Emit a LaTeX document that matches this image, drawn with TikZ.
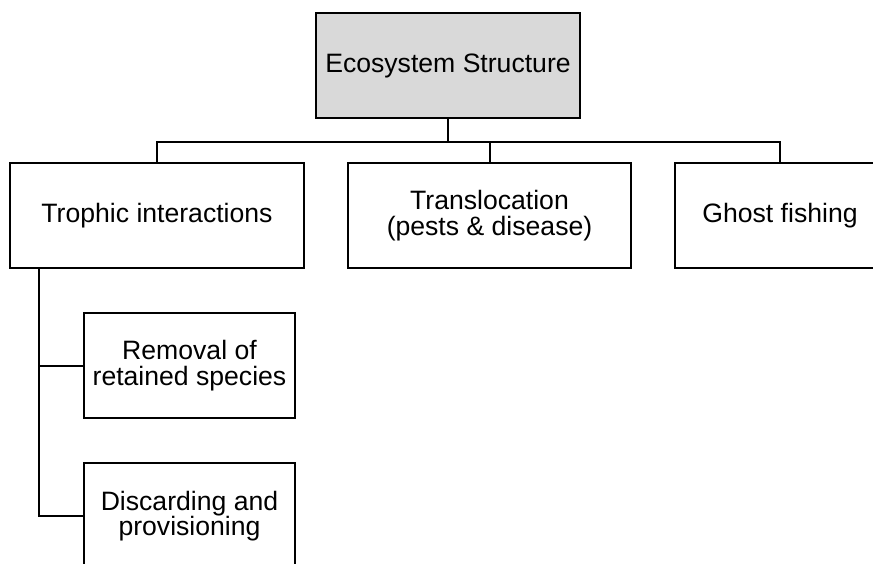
\documentclass[tikz,border=0pt]{standalone}
\usepackage{fontspec}
\setmainfont{Liberation Sans}
\definecolor{boxgray}{RGB}{217,217,217}
\tikzset{
  box/.style={draw=black, line width=2pt, fill=white, inner sep=0pt, align=center,
    font=\fontsize{26.6}{25.5}\selectfont},
  conn/.style={draw=black, line width=2pt}
}
\begin{document}
\begin{tikzpicture}[x=1pt, y=-1pt]
\useasboundingbox (0,0) rectangle (873,563);
\clip (0,0) rectangle (873,563);
\fill[white] (0,0) rectangle (873,563);

\node[box, fill=boxgray, minimum width=264pt, minimum height=105pt] (top) at (448,65.5) {Ecosystem Structure};
\node[box, minimum width=294pt, minimum height=105pt] (trophic) at (157,215.5) {Trophic interactions};
\node[box, minimum width=283pt, minimum height=105pt] (transl) at (489.5,215.5) {Translocation\\(pests \& disease)};
\node[box, minimum width=210pt, minimum height=105pt] (ghost) at (780,215.5) {Ghost fishing};
\node[box, minimum width=211pt, minimum height=105pt] (removal) at (189.5,365.5) {Removal of\\retained species};
\node[box, minimum width=211pt, minimum height=106pt] (discard) at (189.5,516) {Discarding and\\provisioning};

\coordinate (bus) at ([yshift=-23pt]top.south);
\draw[conn] (top.south) -- (bus);
\draw[conn] (bus) -| (trophic.north);
\draw[conn] (bus) -| (ghost.north);
\draw[conn] (bus) -| (transl.north);

\coordinate (tv) at ([xshift=30pt]trophic.south west);
\draw[conn] (tv) |- (discard.west);
\draw[conn] (tv) |- (removal.west);
\end{tikzpicture}
\end{document}
